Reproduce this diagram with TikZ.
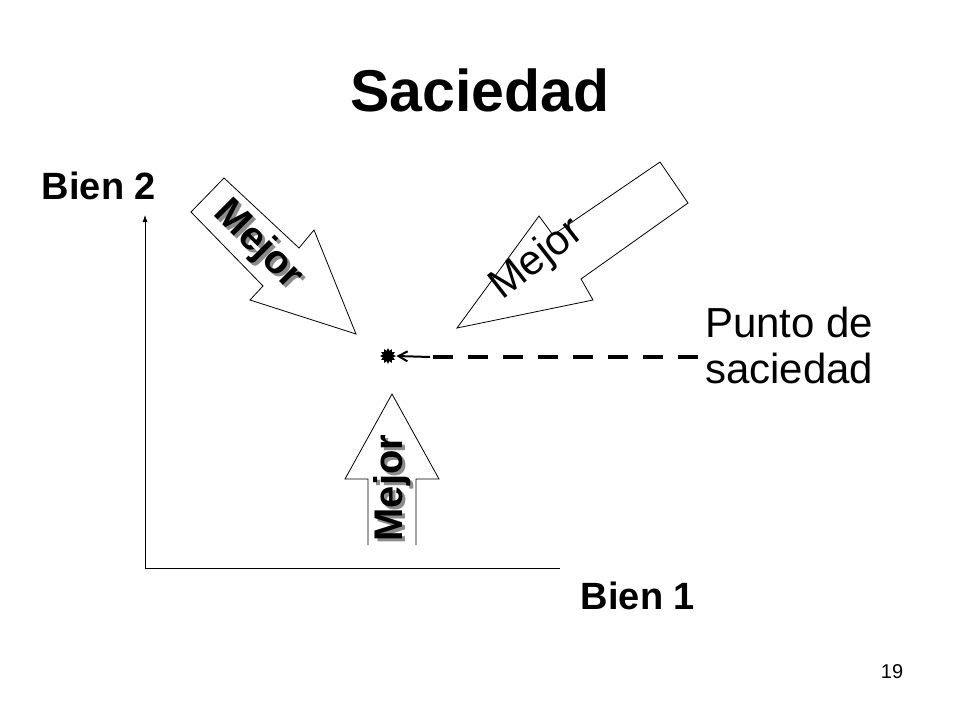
\documentclass[tikz,border=0pt]{standalone}
\usepackage{fontspec}
\setmainfont{Liberation Sans}
\usetikzlibrary{arrows.meta,shapes.geometric}
\begin{document}
\begin{tikzpicture}[x=1pt,y=-1pt,
  fat/.style={draw=black,fill=white,line width=0.8pt,line join=miter},
  lbl/.style={font=\fontsize{40}{42}\selectfont\bfseries,inner sep=0pt},
  shad/.style={lbl,text=black!45}]
\useasboundingbox (0,0) rectangle (960,720);
\node (title) at (480,90) {\fontsize{59}{62}\selectfont\bfseries Saciedad};
\node (b2) at (99,186) {\fontsize{38}{40}\selectfont\bfseries Bien 2};
\node (b1) at (638,596) {\fontsize{38}{40}\selectfont\bfseries Bien 1};
\node (pg) at (892,672) {\fontsize{20}{22}\selectfont 19};
\coordinate (o) at (145,568);
\coordinate (yend) at (145,215);
\coordinate (xend) at (560,568);
\draw[line width=0.8pt,-{Latex[length=7pt,width=5pt]}] (o) -- (yend);
\draw[line width=0.8pt] (o) -- (xend);
% arrows
\draw[fat] (191,212) -- (224,178) -- (299,248) -- (314,230) -- (356,334) -- (250,300) -- (263,286) -- cycle;
\draw[fat] (660,162) -- (688,203) -- (581,279) -- (593,300) -- (457,328) -- (539,216) -- (553,235) -- cycle;
\draw[fat] (368,545) -- (368,479) -- (345,479) -- (392,394) -- (439,479) -- (416,479) -- (416,545);
% labels
\node[shad,rotate=-45] at (261,248) {Mejor};
\node[lbl,rotate=-45] (m1) at (258,245) {Mejor};
\node[font=\fontsize{42}{44}\selectfont,rotate=38,inner sep=0pt] (m2) at (537,260) {Mejor};
\node[shad,rotate=90] at (395,491) {Mejor};
\node[lbl,rotate=90] (m3) at (392,488) {Mejor};
% point
\node[star,star points=12,star point ratio=1.5,fill=black,inner sep=0pt,minimum size=16pt] (p) at (388,356) {};
\node[align=left,anchor=west,inner sep=0pt,font=\fontsize{42}{46}\selectfont] (lab) at (705,345) {Punto de\\saciedad};
\coordinate (dend) at (698,357);
\draw[line width=3.5pt,dash pattern=on 20pt off 15pt] (dend) -- (428,357);
\draw[line width=2pt,-{Straight Barb[length=9pt,width=10pt]}] (430,357) -- (p.east);
\end{tikzpicture}
\end{document}
